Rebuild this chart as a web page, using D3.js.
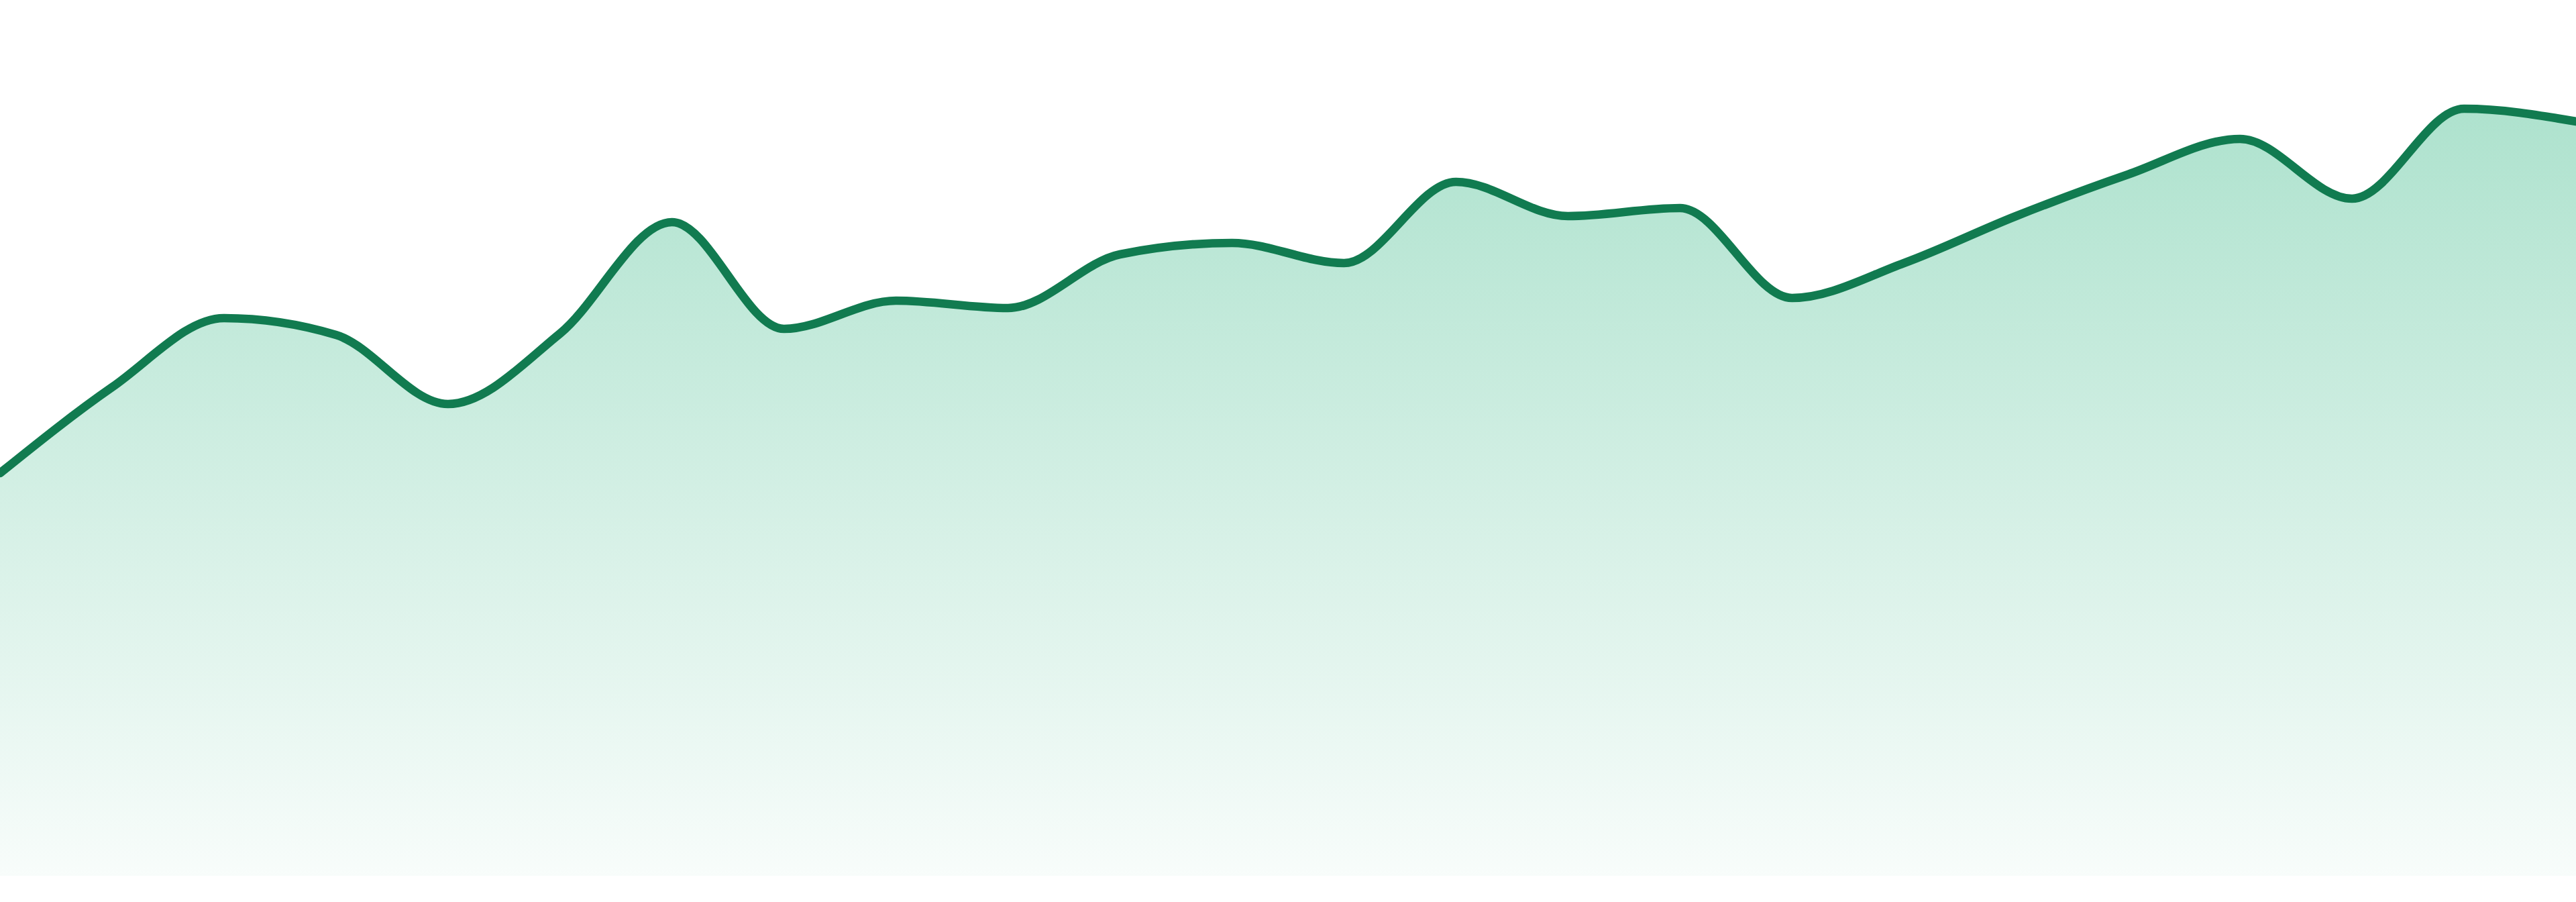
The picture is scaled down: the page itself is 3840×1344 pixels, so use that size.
<!DOCTYPE html>
<html>
<head>
<meta charset="utf-8">
<script src="https://cdn.jsdelivr.net/npm/d3@7"></script>
<style>
  html, body { margin: 0; padding: 0; background: #ffffff; }
  svg { display: block; }
</style>
</head>
<body>
<div id="chart"></div>
<script>
// Data
const categories = d3.range(24).map(i => "P" + (i + 1));
const values = [60.0, 72.8, 83.1, 80.6, 70.3, 80.8, 97.4, 81.5, 85.7, 84.6, 92.6, 94.3,
                91.3, 103.4, 98.3, 99.5, 86.1, 91.3, 98.3, 104.5, 109.8, 100.9, 114.3, 112.4];
const yDomain = [0, 120];

const W = 3840, H = 1344;
const margin = { top: 105, right: 0, bottom: 39, left: 0 };

const svg = d3.select("#chart").append("svg")
  .attr("width", W).attr("height", H);

const x = d3.scalePoint().domain(categories).range([margin.left, W - margin.right]);
const y = d3.scaleLinear().domain(yDomain).range([H - margin.bottom, margin.top]);

const data = categories.map((c, i) => ({ c, v: values[i] }));

const topY = y(d3.max(values));
const defs = svg.append("defs");
const grad = defs.append("linearGradient")
  .attr("id", "fillGrad")
  .attr("gradientUnits", "userSpaceOnUse")
  .attr("x1", 0).attr("x2", 0)
  .attr("y1", topY).attr("y2", y(0));
grad.append("stop").attr("offset", "0%").attr("stop-color", "rgb(16,170,110)").attr("stop-opacity", 0.34);
grad.append("stop").attr("offset", "100%").attr("stop-color", "rgb(16,170,110)").attr("stop-opacity", 0.03);

const area = d3.area()
  .x(d => x(d.c))
  .y0(y(0))
  .y1(d => y(d.v))
  .curve(d3.curveMonotoneX);

const line = d3.line()
  .x(d => x(d.c))
  .y(d => y(d.v))
  .curve(d3.curveMonotoneX);

svg.append("path").datum(data)
  .attr("d", area)
  .attr("fill", "url(#fillGrad)");

svg.append("path").datum(data)
  .attr("d", line)
  .attr("fill", "none")
  .attr("stroke", "#117b50")
  .attr("stroke-width", 12.7)
  .attr("stroke-linejoin", "round")
  .attr("stroke-linecap", "round");
</script>
</body>
</html>
